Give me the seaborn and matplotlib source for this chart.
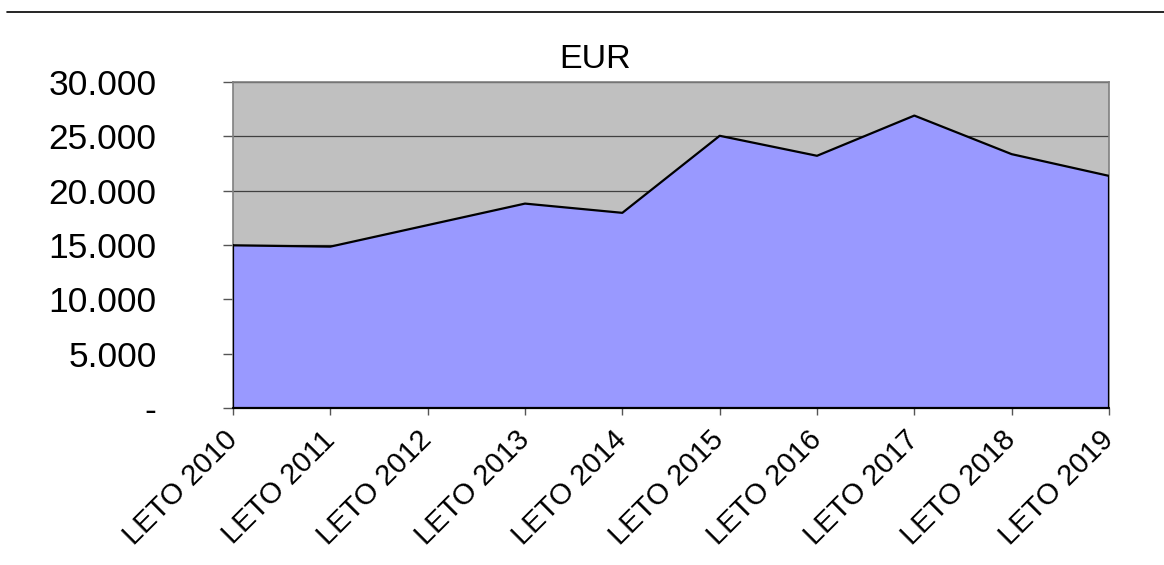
import numpy as np
import pandas as pd
import matplotlib
matplotlib.use("Agg")
import matplotlib.pyplot as plt
from matplotlib.ticker import FuncFormatter, FixedLocator
from matplotlib.lines import Line2D
import seaborn as sns

categories = ["LETO 2010", "LETO 2011", "LETO 2012", "LETO 2013", "LETO 2014",
              "LETO 2015", "LETO 2016", "LETO 2017", "LETO 2018", "LETO 2019"]
values = [14970, 14850, 16830, 18810, 17960, 25050, 23210, 26910, 23360, 21360]
title = "EUR"

sns.set_theme(style="white")
plt.rcParams['font.family'] = ['Liberation Sans', 'DejaVu Sans']
plt.rcParams['text.color'] = 'black'
plt.rcParams['xtick.color'] = 'black'
plt.rcParams['ytick.color'] = 'black'

df = pd.DataFrame({"pos": np.arange(len(categories)), "cat": categories, "val": values})

fig = plt.figure(figsize=(11.64, 5.65), dpi=100)
ax = fig.add_axes([233/1164, 1-408/565, (1109-233)/1164, (408-82)/565])
ax.set_facecolor("#C0C0C0")

ax.fill_between(df["pos"], 0, df["val"], facecolor="#9999FF", edgecolor="none", zorder=2)
sns.lineplot(data=df, x="pos", y="val", ax=ax, color="black", linewidth=1.6, zorder=3)
# outline the area polygon edges (left, right, bottom)
ax.plot([0, 0], [0, values[0]], color="black", linewidth=1.6, zorder=3)
ax.plot([len(values)-1]*2, [0, values[-1]], color="black", linewidth=1.6, zorder=3)
ax.plot([0, len(values)-1], [0, 0], color="black", linewidth=1.6, zorder=3, clip_on=False)

ax.set_xlim(0, len(categories)-1)
ax.set_ylim(0, 30000)
ax.yaxis.set_major_locator(FixedLocator(np.arange(0, 30001, 5000)))
ax.yaxis.set_major_formatter(FuncFormatter(lambda v, p: "-" if v == 0 else f"{int(v):,}".replace(",", ".")))
ax.set_xticks(df["pos"])
ax.set_xticklabels(categories, rotation=45, ha="right", va="center", rotation_mode="anchor",
                   fontsize=21, color="black")
ax.grid(axis="y", color="#404040", linewidth=0.9, zorder=1)
ax.set_axisbelow(True)
ax.set_xlabel("")
ax.set_ylabel("")
ax.tick_params(axis="y", which="major", length=7, width=1, color="#555555", pad=48,
               labelsize=25.5, labelcolor="black", left=True)
ax.tick_params(axis="x", which="major", length=5, width=1, color="#555555", pad=15,
               labelcolor="black", bottom=True)
for s in ax.spines.values():
    s.set_color("#808080")
    s.set_linewidth(1.2)
    s.set_visible(True)

fig.text(595/1164, 1-67.5/565, title, ha="center", va="baseline", fontsize=24.5, color="black")
fig.add_artist(Line2D([7/1164, 1.0], [1-12/565, 1-12/565], color="black", linewidth=1.2))

fig.savefig("out.png", dpi=100)
